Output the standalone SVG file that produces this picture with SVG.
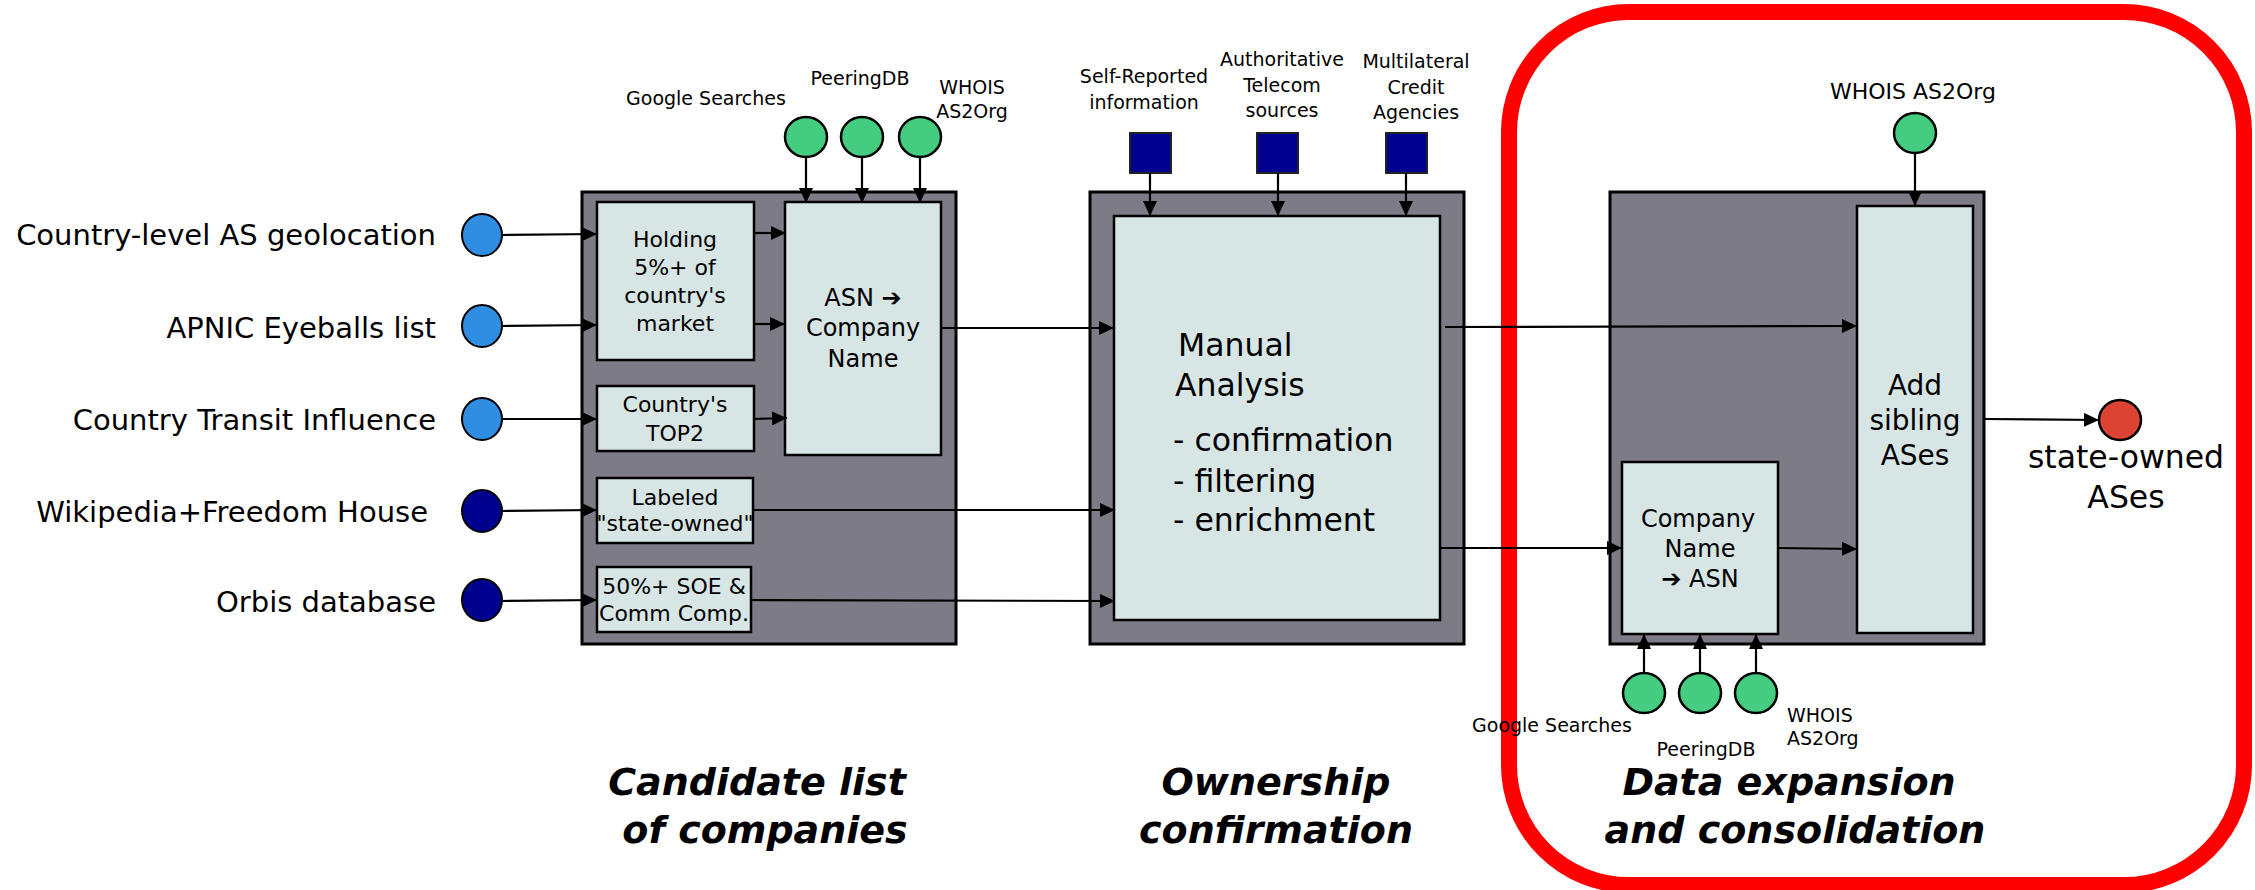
<svg xmlns="http://www.w3.org/2000/svg" width="2255" height="890" viewBox="0 0 2255 890">
<defs>
<marker id="ah" markerUnits="userSpaceOnUse" markerWidth="15" markerHeight="14" refX="15" refY="7" orient="auto">
<path d="M0,0 L15,7 L0,14 z" fill="#000"/>
</marker>
<style>
.t{font-family:"DejaVu Sans","Liberation Sans",sans-serif;fill:#000}
.big{font-size:28px}
.lbl{font-size:29px}
.sm{font-size:19px}
.sm22{font-size:22px}
.bx{font-size:22px}
.bx24{font-size:24px}
.ma{font-size:31.5px}
.title{font-family:"DejaVu Sans","Liberation Sans",sans-serif;font-size:38px;font-weight:bold;font-style:oblique;text-anchor:middle}
.mid{text-anchor:middle}
.end{text-anchor:end}
.outer{fill:#7d7b85;stroke:#000;stroke-width:3}
.inner{fill:#d7e5e4;stroke:#000;stroke-width:2.5}
.lb{fill:#2f8ee2;stroke:#000;stroke-width:2}
.db{fill:#00008f;stroke:#000;stroke-width:2}
.gr{fill:#44cd80;stroke:#000;stroke-width:2.5}
.sq{fill:#00008f;stroke:#222;stroke-width:2}
.red{fill:#dc4333;stroke:#000;stroke-width:2.5}
.c{stroke:#000;stroke-width:2.2;fill:none;marker-end:url(#ah)}
</style>
</defs>
<rect width="2255" height="890" fill="#fff"/>

<g id="stage3-frame">
<rect x="1509" y="12" width="735" height="873" rx="120" ry="120" fill="none" stroke="#ff0000" stroke-width="16"/>
</g>

<!-- source labels -->
<g id="src-geo"><ellipse class="lb" cx="482" cy="235" rx="20" ry="21"/><text class="t lbl end" x="436" y="245">Country-level AS geolocation</text></g>
<g id="src-apnic"><ellipse class="lb" cx="482" cy="326" rx="20" ry="21"/><text class="t lbl end" x="436" y="338">APNIC Eyeballs list</text></g>
<g id="src-cti"><ellipse class="lb" cx="482" cy="419" rx="20" ry="21"/><text class="t lbl end" x="436" y="430">Country Transit Influence</text></g>
<g id="src-wiki"><ellipse class="db" cx="482" cy="511" rx="20" ry="21"/><text class="t lbl end" x="428" y="522">Wikipedia+Freedom House</text></g>
<g id="src-orbis"><ellipse class="db" cx="482" cy="600" rx="20" ry="21"/><text class="t lbl end" x="436" y="612">Orbis database</text></g>

<!-- Stage 1 -->
<g id="stage1"><rect class="outer" x="582" y="192" width="374" height="452"/></g>
<g id="holding"><rect class="inner" x="597" y="202" width="157" height="158"/>
<text class="t bx mid" x="675" y="247">Holding</text><text class="t bx mid" x="675" y="275">5%+ of</text><text class="t bx mid" x="675" y="303">country's</text><text class="t bx mid" x="675" y="331">market</text></g>
<g id="top2"><rect class="inner" x="597" y="386" width="157" height="65"/>
<text class="t bx mid" x="675" y="412">Country's</text><text class="t bx mid" x="675" y="441">TOP2</text></g>
<g id="labeled"><rect class="inner" x="597" y="478" width="156" height="65"/>
<text class="t bx mid" x="675" y="505">Labeled</text><text class="t bx mid" x="675" y="531">"state-owned"</text></g>
<g id="soe"><rect class="inner" x="597" y="567" width="154" height="65"/>
<text class="t bx mid" x="674" y="594">50%+ SOE &amp;</text><text class="t bx mid" x="674" y="621">Comm Comp.</text></g>
<g id="asn2name"><rect class="inner" x="785" y="202" width="156" height="253"/>
<text class="t bx24 mid" x="863" y="306">ASN ➔</text><text class="t bx24 mid" x="863" y="336">Company</text><text class="t bx24 mid" x="863" y="367">Name</text></g>
<g id="s1-google"><ellipse class="gr" cx="806" cy="137" rx="21" ry="20"/><text class="t sm mid" x="706" y="105">Google Searches</text></g>
<g id="s1-peering"><ellipse class="gr" cx="862" cy="137" rx="21" ry="20"/><text class="t sm mid" x="860" y="85">PeeringDB</text></g>
<g id="s1-whois"><ellipse class="gr" cx="920" cy="137" rx="21" ry="20"/><text class="t sm mid" x="972" y="94">WHOIS</text><text class="t sm mid" x="972" y="118">AS2Org</text></g>

<!-- Stage 2 -->
<g id="stage2"><rect class="outer" x="1090" y="192" width="374" height="452"/></g>
<g id="manual"><rect class="inner" x="1114" y="216" width="326" height="404"/>
<text class="t ma" x="1178" y="356">Manual</text><text class="t ma" x="1175" y="396">Analysis</text>
<text class="t ma" x="1173" y="451">- confirmation</text><text class="t ma" x="1173" y="492">- filtering</text><text class="t ma" x="1173" y="531">- enrichment</text></g>
<g id="s2-self"><rect class="sq" x="1130" y="133" width="41" height="40"/><text class="t sm mid" x="1144" y="83">Self-Reported</text><text class="t sm mid" x="1144" y="109">information</text></g>
<g id="s2-auth"><rect class="sq" x="1257" y="133" width="41" height="40"/><text class="t sm mid" x="1282" y="66">Authoritative</text><text class="t sm mid" x="1282" y="92">Telecom</text><text class="t sm mid" x="1282" y="117">sources</text></g>
<g id="s2-multi"><rect class="sq" x="1386" y="133" width="41" height="40"/><text class="t sm mid" x="1416" y="68">Multilateral</text><text class="t sm mid" x="1416" y="94">Credit</text><text class="t sm mid" x="1416" y="119">Agencies</text></g>

<!-- Stage 3 -->
<g id="stage3"><rect class="outer" x="1610" y="192" width="374" height="452"/></g>
<g id="sibling"><rect class="inner" x="1857" y="206" width="116" height="427"/>
<text class="t big mid" x="1915" y="395">Add</text><text class="t big mid" x="1915" y="430">sibling</text><text class="t big mid" x="1915" y="465">ASes</text></g>
<g id="name2asn"><rect class="inner" x="1622" y="462" width="156" height="172"/>
<text class="t bx24 mid" x="1698" y="527">Company</text><text class="t bx24 mid" x="1700" y="557">Name</text><text class="t bx24 mid" x="1700" y="587">➔ ASN</text></g>
<g id="s3-whois-top"><ellipse class="gr" cx="1915" cy="133" rx="21" ry="20"/><text class="t sm22 mid" x="1913" y="99">WHOIS AS2Org</text></g>
<g id="s3-google"><ellipse class="gr" cx="1644" cy="693" rx="21" ry="20"/><text class="t sm mid" x="1552" y="732">Google Searches</text></g>
<g id="s3-peering"><ellipse class="gr" cx="1700" cy="693" rx="21" ry="20"/><text class="t sm mid" x="1706" y="756">PeeringDB</text></g>
<g id="s3-whois"><ellipse class="gr" cx="1756" cy="693" rx="21" ry="20"/><text class="t sm" x="1787" y="722">WHOIS</text><text class="t sm" x="1787" y="745">AS2Org</text></g>
<g id="result"><ellipse class="red" cx="2120" cy="420" rx="21" ry="20"/><text class="t ma mid" x="2126" y="468">state-owned</text><text class="t ma mid" x="2126" y="508">ASes</text></g>

<!-- titles -->
<g id="titles">
<text class="title" x="757" y="795">Candidate list</text>
<text class="title" x="765" y="843">of companies</text>
<text class="title" x="1276" y="795">Ownership</text>
<text class="title" x="1276" y="843">confirmation</text>
<text class="title" x="1789" y="795">Data expansion</text>
<text class="title" x="1795" y="843">and consolidation</text>
</g>

<g id="connectors">
<line class="c" x1="502" y1="235" x2="597" y2="234"/>
<line class="c" x1="502" y1="326" x2="597" y2="325"/>
<line class="c" x1="502" y1="419" x2="597" y2="419"/>
<line class="c" x1="502" y1="511" x2="597" y2="510"/>
<line class="c" x1="502" y1="601" x2="597" y2="600"/>
<line class="c" x1="754" y1="233" x2="786" y2="233"/>
<line class="c" x1="754" y1="324" x2="785" y2="324"/>
<line class="c" x1="754" y1="419" x2="787" y2="418"/>
<line class="c" x1="806" y1="157" x2="806" y2="203"/>
<line class="c" x1="862" y1="157" x2="862" y2="203"/>
<line class="c" x1="920" y1="157" x2="920" y2="203"/>
<line class="c" x1="941" y1="328" x2="1114" y2="328"/>
<line class="c" x1="753" y1="510" x2="1115" y2="510"/>
<line class="c" x1="751" y1="600" x2="1115" y2="601"/>
<line class="c" x1="1150" y1="173" x2="1150" y2="216"/>
<line class="c" x1="1278" y1="173" x2="1278" y2="216"/>
<line class="c" x1="1406" y1="173" x2="1406" y2="216"/>
<line class="c" x1="1445" y1="327" x2="1857" y2="326"/>
<line class="c" x1="1440" y1="548" x2="1622" y2="548"/>
<line class="c" x1="1778" y1="548" x2="1857" y2="549"/>
<line class="c" x1="1915" y1="153" x2="1915" y2="206"/>
<line class="c" x1="1644" y1="673" x2="1644" y2="634"/>
<line class="c" x1="1700" y1="673" x2="1700" y2="634"/>
<line class="c" x1="1756" y1="673" x2="1756" y2="634"/>
<line class="c" x1="1984" y1="419" x2="2099" y2="420"/>
</g>
</svg>
